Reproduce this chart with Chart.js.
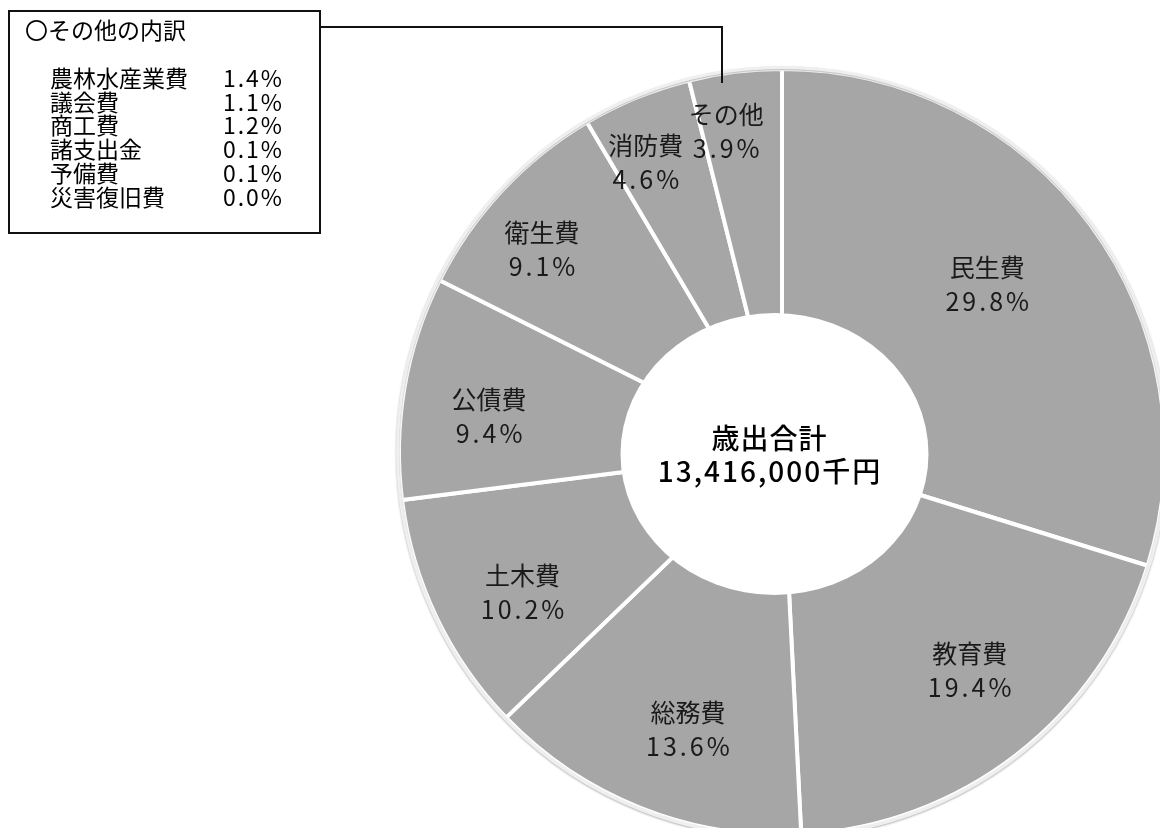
<!DOCTYPE html>
<html lang="ja">
<head>
<meta charset="utf-8">
<title>歳出内訳</title>
<script src="https://cdn.jsdelivr.net/npm/chart.js@4"></script>
<style>
  html, body { margin: 0; padding: 0; background: #fff; overflow: hidden; }
  #wrap { position: absolute; left: 0; top: 0; width: 1200px; height: 900px; }
</style>
</head>
<body>
<div id="wrap"><canvas id="saishutsu"></canvas></div>
<script>
// 歳出の内訳 (%)
const categories = ['民生費', '教育費', '総務費', '土木費', '公債費', '衛生費', '消防費', 'その他'];
const shares = [29.8, 19.4, 13.6, 10.2, 9.4, 9.1, 4.6, 3.9];

// その他の内訳 (%)
const otherItems = ['農林水産業費', '議会費', '商工費', '諸支出金', '予備費', '災害復旧費'];
const otherShares = [1.4, 1.1, 1.2, 0.1, 0.1, 0.0];

const totalTitle = '歳出合計';
const totalAmount = '13,416,000千円';

const FONT = '"Noto Sans CJK JP", "Noto Sans", sans-serif';

// centred text with extra letter spacing (trailing gap compensated)
function spacedText(ctx, text, x, y, spacing) {
    ctx.letterSpacing = spacing + 'px';
    ctx.fillText(text, x + spacing / 2, y);
    ctx.letterSpacing = '0px';
}

const decorations = {
    id: 'decorations',
    afterDatasetsDraw(chart, args, opts) {
        const ctx = chart.ctx;
        const arcs = chart.getDatasetMeta(0).data;
        const cx = arcs[0].x, cy = arcs[0].y, R = arcs[0].outerRadius;

        // light rim round the pie
        ctx.save();
        ctx.shadowColor = 'rgba(0,0,0,0.3)';
        ctx.shadowBlur = 2;
        ctx.shadowOffsetY = 1;
        ctx.strokeStyle = '#efefef';
        ctx.lineWidth = 3;
        ctx.beginPath();
        ctx.arc(cx, cy, R + 1.5, 0, Math.PI * 2);
        ctx.stroke();
        ctx.restore();

        // white oval in the middle
        ctx.save();
        ctx.fillStyle = '#fff';
        ctx.beginPath();
        ctx.ellipse(cx - 7.5, cy + 2, 154, 141, 0, 0, Math.PI * 2);
        ctx.fill();

        ctx.fillStyle = '#000';
        ctx.textAlign = 'center';
        ctx.textBaseline = 'middle';
        ctx.font = '500 28px ' + FONT;
        spacedText(ctx, totalTitle, cx - 13, cy - 14, 1);
        spacedText(ctx, totalAmount, cx - 13, cy + 19, 2);

        // slice labels
        ctx.fillStyle = '#1a1a1a';
        ctx.font = '25px ' + FONT;
        arcs.forEach((arc, i) => {
            const mid = (arc.startAngle + arc.endAngle) / 2 - 0.05;
            const r = opts.labelRadius[i];
            const x = cx + Math.cos(mid) * r;
            const y = cy + Math.sin(mid) * r;
            ctx.fillText(categories[i], x, y - 17);
            spacedText(ctx, shares[i].toFixed(1) + '%', x, y + 17, 3);
        });
        ctx.restore();
    },
    afterDraw(chart) {
        const ctx = chart.ctx;
        ctx.save();
        // その他の内訳 box
        ctx.strokeStyle = '#111';
        ctx.lineWidth = 2;
        ctx.strokeRect(9, 11, 311, 222);

        // leader line to the その他 slice
        ctx.beginPath();
        ctx.moveTo(320, 27);
        ctx.lineTo(722, 27);
        ctx.lineTo(722, 83);
        ctx.stroke();

        ctx.fillStyle = '#000';
        ctx.textBaseline = 'middle';
        ctx.font = '23px ' + FONT;
        ctx.textAlign = 'left';
        ctx.fillText('〇その他の内訳', 25, 30);
        otherItems.forEach((name, i) => {
            const y = 78 + i * 23.8;
            ctx.textAlign = 'left';
            ctx.fillText(name, 50, y);
            ctx.textAlign = 'right';
            ctx.letterSpacing = '2px';
            ctx.fillText(otherShares[i].toFixed(1) + '%', 284, y);
            ctx.letterSpacing = '0px';
        });
        ctx.restore();
    }
};

const ctx = document.getElementById('saishutsu').getContext('2d');

const myChart = new Chart(ctx, {
    type: 'pie',
    data: {
        labels: categories,
        datasets: [{
            data: shares,
            backgroundColor: '#a6a6a6',
            borderColor: '#ffffff',
            borderWidth: 4,
            hoverOffset: 0
        }]
    },
    options: {
        responsive: true,
        maintainAspectRatio: false,
        animation: false,
        layout: {
            padding: { left: 397, top: 67, right: 33, bottom: 63 }
        },
        plugins: {
            legend: { display: false },
            tooltip: { enabled: false },
            decorations: {
                labelRadius: [265, 288, 293, 295, 295, 314, 320, 325]
            }
        }
    },
    plugins: [decorations]
});
</script>
</body>
</html>
